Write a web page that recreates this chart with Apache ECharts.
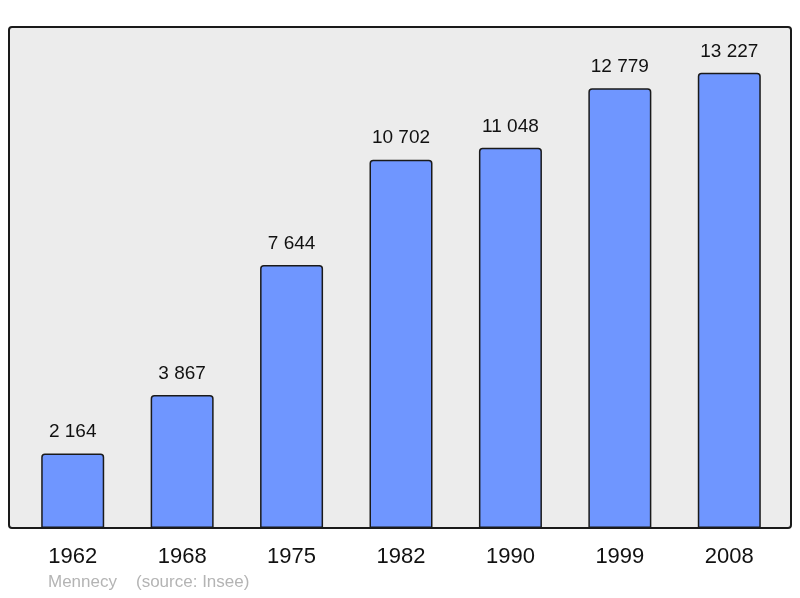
<!DOCTYPE html>
<html>
<head>
<meta charset="utf-8">
<script src="https://cdn.jsdelivr.net/npm/echarts@6/dist/echarts.min.js"></script>
<style>
  html, body { margin: 0; padding: 0; background: #fff; }
  #main { width: 800px; height: 598px; }
</style>
</head>
<body>
<div id="main"></div>
<script>
// population data (Mennecy, source: Insee)
var years = ['1962', '1968', '1975', '1982', '1990', '1999', '2008'];
var population = [2164, 3867, 7644, 10702, 11048, 12779, 13227];

var myChart = echarts.init(document.getElementById('main'));

function fmt(v) {
    // space as thousands separator like "13 227"
    return String(v).replace(/\B(?=(\d{3})+(?!\d))/g, ' ');
}

var option = {
    backgroundColor: '#ffffff',
    animation: false,
    textStyle: { fontFamily: 'Liberation Sans, Arial, sans-serif' },
    graphic: [
        {
            type: 'rect',
            z: 0,
            shape: { x: 9, y: 27, width: 782, height: 501, r: 3 },
            style: { fill: '#ececec', stroke: '#1a1a1a', lineWidth: 2 }
        },
        {
            type: 'text',
            left: 48, top: 574,
            style: { text: 'Mennecy', fill: '#b4b4b4', font: '17px Liberation Sans, Arial, sans-serif' }
        },
        {
            type: 'text',
            left: 136, top: 574,
            style: { text: '(source: Insee)', fill: '#b4b4b4', font: '17px Liberation Sans, Arial, sans-serif' }
        }
    ],
    grid: { left: 18, top: 27, width: 766, height: 501 },
    xAxis: {
        type: 'category',
        data: years,
        axisLine: { show: false },
        axisTick: { show: false },
        axisLabel: { color: '#111', fontSize: 22, margin: 18 }
    },
    yAxis: {
        type: 'value',
        min: 0,
        max: 14560,
        show: false,
        splitLine: { show: false }
    },
    series: [{
        type: 'bar',
        data: population,
        barWidth: 63,
        itemStyle: {
            color: '#6f96ff',
            borderColor: '#1a1a1a',
            borderWidth: 1.5,
            borderRadius: [3, 3, 0, 0]
        },
        label: {
            show: true,
            position: 'top',
            distance: 12,
            color: '#111',
            fontSize: 19,
            formatter: function (p) { return fmt(p.value); }
        }
    }]
};

myChart.setOption(option);
</script>
</body>
</html>
